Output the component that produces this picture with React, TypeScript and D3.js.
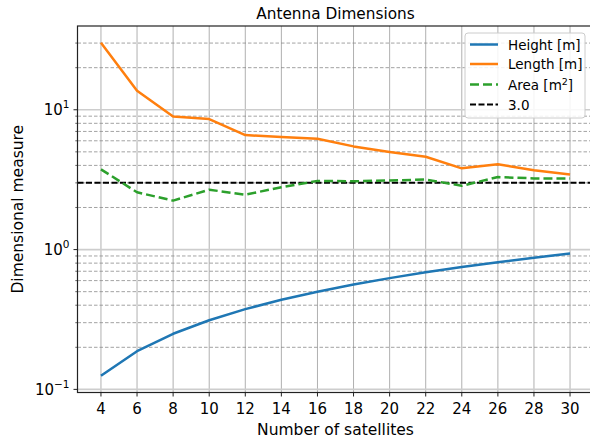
import React from 'react';
import * as d3 from 'd3';

const satellites = [4, 6, 8, 10, 12, 14, 16, 18, 20, 22, 24, 26, 28, 30];
const heightM = [0.125, 0.1875, 0.25, 0.3125, 0.375, 0.4375, 0.5, 0.5625, 0.625, 0.6875, 0.75, 0.8125, 0.875, 0.9375];
const lengthM = [30.2, 13.7, 8.96, 8.58, 6.59, 6.38, 6.2, 5.47, 4.99, 4.61, 3.81, 4.07, 3.69, 3.45];
const areaM2 = [3.75, 2.57, 2.24, 2.68, 2.47, 2.79, 3.1, 3.08, 3.12, 3.17, 2.86, 3.3, 3.23, 3.23];
const referenceValue = 3.0;
const xTicks = satellites;
const yMajorTicks = [0.1, 1, 10];
const yTickExponents = ['\u22121', '0', '1'];

const W = 590;
const H = 440;
const left = 77.5;
const right = 593.5;
const top = 26;
const bottom = 392.5;
const FONT = '"DejaVu Sans", sans-serif';

export default function App() {
  const xMin = d3.min(satellites)!;
  const xMax = d3.max(satellites)!;
  const xPad = (xMax - xMin) * 0.05;
  const x = d3.scaleLinear().domain([xMin - xPad, xMax + xPad]).range([left, right]);

  const all = [...heightM, ...lengthM, ...areaM2, referenceValue];
  const lo = Math.log10(d3.min(all)!);
  const hi = Math.log10(d3.max(all)!);
  const lPad = (hi - lo) * 0.05;
  const y = d3.scaleLog().domain([Math.pow(10, lo - lPad), Math.pow(10, hi + lPad)]).range([bottom, top]);
  const [dLo, dHi] = y.domain();

  const minor: number[] = [];
  for (let e = -3; e <= 3; e++) {
    for (let k = 2; k <= 9; k++) {
      const v = k * Math.pow(10, e);
      if (v >= dLo && v <= dHi) minor.push(v);
    }
  }

  const line = d3.line<[number, number]>().x(d => x(d[0])).y(d => y(d[1]));
  const mk = (vals: number[]) => line(satellites.map((s, i) => [s, vals[i]] as [number, number])) || '';

  const legendItems = [
    { label: 'Height [m]', color: '#1f77b4', dash: undefined as string | undefined, sup: '' },
    { label: 'Length [m]', color: '#ff7f0e', dash: undefined, sup: '' },
    { label: 'Area [m', color: '#2ca02c', dash: '9,4', sup: '2' },
    { label: '3.0', color: '#000000', dash: '6,2.5', sup: '' },
  ];
  const legendRowsY = [44.5, 64, 84.5, 104.5];

  return (
    <svg width={W} height={H} style={{ position: 'absolute', left: 0, top: 0, background: '#fff' }} fontFamily={FONT}>
      <rect x={0} y={0} width={W} height={H} fill="#fff" />
      <defs>
        <clipPath id="plotclip">
          <rect x={left} y={top} width={right - left} height={bottom - top} />
        </clipPath>
      </defs>
      {xTicks.map(t => (
        <line key={'vx' + t} x1={x(t)} x2={x(t)} y1={top} y2={bottom} stroke="#b0b0b0" strokeWidth={1} />
      ))}
      {minor.map(v => (
        <line key={'mn' + v} x1={left} x2={right} y1={y(v)} y2={y(v)} stroke="#8c8c8c" strokeWidth={0.8} strokeDasharray="3.5,2" />
      ))}
      {yMajorTicks.map(v => (
        <line key={'mj' + v} x1={left} x2={right} y1={y(v)} y2={y(v)} stroke="#cdcdcd" strokeWidth={1.6} />
      ))}
      <g clipPath="url(#plotclip)">
        <line x1={left} x2={right} y1={y(referenceValue)} y2={y(referenceValue)} stroke="#000" strokeWidth={2} strokeDasharray="6,2.5" />
        <path d={mk(heightM)} fill="none" stroke="#1f77b4" strokeWidth={2.5} strokeLinejoin="round" />
        <path d={mk(lengthM)} fill="none" stroke="#ff7f0e" strokeWidth={2.5} strokeLinejoin="round" />
        <path d={mk(areaM2)} fill="none" stroke="#2ca02c" strokeWidth={2.5} strokeDasharray="9,4" strokeLinejoin="round" />
      </g>
      <rect x={left} y={top} width={right - left} height={bottom - top} fill="none" stroke="#222" strokeWidth={1.2} />
      {xTicks.map(t => (
        <g key={'xt' + t}>
          <line x1={x(t)} x2={x(t)} y1={bottom} y2={bottom + 4} stroke="#222" strokeWidth={1} />
          <text x={x(t)} y={413.5} textAnchor="middle" fontSize={15} fill="#000">{t}</text>
        </g>
      ))}
      {minor.map(v => (
        <line key={'ymt' + v} x1={left - 2.2} x2={left} y1={y(v)} y2={y(v)} stroke="#222" strokeWidth={0.7} />
      ))}
      {yMajorTicks.map((v, i) => (
        <g key={'yt' + v}>
          <line x1={left - 4} x2={left} y1={y(v)} y2={y(v)} stroke="#222" strokeWidth={1} />
          <text x={left - 8} y={y(v) + 5.5} textAnchor="end" fontSize={15} fill="#000">
            10<tspan fontSize={10.5} dy={-7}>{yTickExponents[i]}</tspan>
          </text>
        </g>
      ))}
      <text x={(left + right) / 2} y={18.5} textAnchor="middle" fontSize={15.3} fill="#000">Antenna Dimensions</text>
      <text x={(left + right) / 2} y={434.5} textAnchor="middle" fontSize={15.5} fill="#000">Number of satellites</text>
      <text transform={`translate(23,${(top + bottom) / 2}) rotate(-90)`} textAnchor="middle" fontSize={15.5} fill="#000">Dimensional measure</text>
      <g>
        <rect x={465} y={33} width={120} height={85} rx={3} fill="#fff" fillOpacity={0.85} stroke="#cccccc" strokeWidth={1} />
        {legendItems.map((it, i) => (
          <g key={'lg' + i}>
            <line x1={470} x2={498} y1={legendRowsY[i]} y2={legendRowsY[i]} stroke={it.color} strokeWidth={it.color === '#000000' ? 2 : 2.5} strokeDasharray={it.dash} />
            <text x={508} y={legendRowsY[i] + 5} fontSize={13.5} fill="#000">
              {it.label}
              {it.sup ? <tspan fontSize={9.5} dy={-5}>{it.sup}</tspan> : null}
              {it.sup ? <tspan dy={5}>]</tspan> : null}
            </text>
          </g>
        ))}
      </g>
    </svg>
  );
}
